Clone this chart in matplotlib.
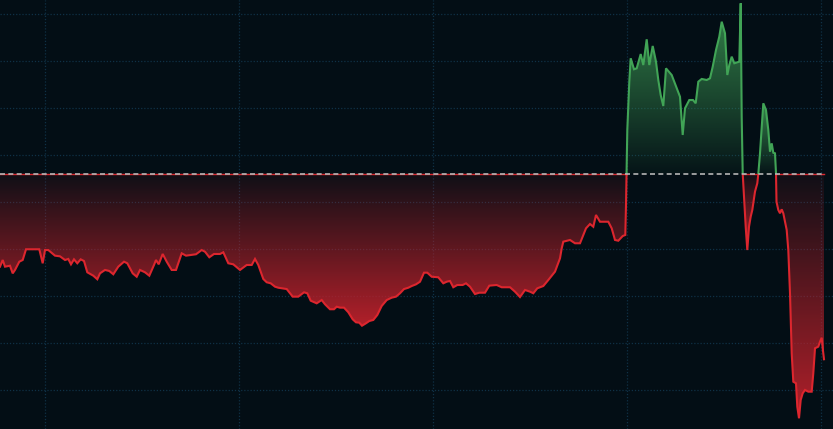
import numpy as np
import matplotlib.pyplot as plt
from matplotlib.patches import Rectangle

# time index and price
t = [0, 2.7, 5, 10, 12.7, 15, 19.3, 22.7, 26, 39.3, 42.7, 45, 48.3, 55, 60, 65, 68.3, 71, 74, 77.3,
     80.7, 84, 87.3, 93.3, 97.3, 100, 105, 109.3, 113.3, 118.3, 124, 127.3, 132.7, 136.7, 140, 145,
     149.3, 154, 156, 158.7, 162.7, 166.7, 171.7, 176, 181.7, 186, 190.7, 196, 201.7, 205, 209.3,
     214, 220, 223.3, 228.3, 233.3, 240, 246.7, 251.7, 255, 258.3, 263.3, 266.7, 270.7, 275, 278.3,
     286.7, 292.7, 298.3, 304, 307.3, 310.7, 316.7, 321.7, 325, 330, 334, 336.7, 340, 344, 348.3,
     352.7, 356, 359.3, 362, 366, 369.3, 373.3, 377.3, 381.7, 386.7, 391.7, 396, 400, 404, 408.3,
     411.7, 416, 420, 424, 427.3, 431.7, 438.3, 443.3, 446.7, 450, 453.3, 457.3, 462.7, 466, 470,
     475, 479.3, 485, 489.3, 496.7, 501.7, 510, 515, 520, 525, 530, 533.3, 537.3, 543.3, 548.3, 555,
     560, 561.7, 563.3, 570, 575, 580, 586, 590, 593.3, 596, 600, 604, 608.3, 611.7, 615, 618.3,
     622.7, 625.3, 626, 627.3, 628.3, 629.3, 630.7, 634, 636.7, 640.7, 643.3, 646.7, 649.3, 652.7,
     656, 658.3, 660.7, 663.3, 666, 671.7, 680, 682.7, 685, 689.3, 693, 695.7, 698.3, 701.7, 706.7,
     710, 712.7, 716, 719.3, 721.7, 725, 727.3, 729.3, 731.7, 734.3, 739.3, 740.7, 741.7, 742.7, 744,
     745.7, 747.3, 749, 750.7, 752.3, 755, 757.3, 758.3, 760, 761.7, 763.3, 766, 768.3, 770, 771.7,
     773.3, 775, 776, 776.5, 778.3, 780, 781.7, 783.3, 785, 786.7, 788.3, 790, 791.7, 793.3, 796,
     797.3, 799, 800.7, 802.7, 805, 808.3, 811.7, 813.3, 815, 818.3, 820, 821.7, 822.7, 824]
price = [73.12, 73.83, 73.12, 73.22, 72.41, 72.77, 73.65, 73.83, 74.97, 74.97, 73.48, 74.89, 74.89,
         74.29, 74.22, 73.83, 73.94, 73.37, 73.90, 73.48, 73.90, 73.72, 72.52, 72.16, 71.78, 72.41,
         72.77, 72.66, 72.31, 73.12, 73.65, 73.48, 72.41, 72.05, 72.77, 72.52, 72.16, 73.30, 73.83,
         73.37, 74.47, 73.65, 72.77, 72.77, 74.54, 74.29, 74.36, 74.44, 74.89, 74.71, 74.12, 74.47,
         74.47, 74.65, 73.48, 73.37, 72.77, 73.30, 73.30, 73.94, 73.30, 71.81, 71.46, 71.35, 70.99,
         70.88, 70.74, 69.93, 69.93, 70.39, 70.29, 69.50, 69.22, 69.57, 69.12, 68.59, 68.59, 68.86,
         68.76, 68.76, 68.27, 67.52, 67.20, 67.16, 66.84, 67.10, 67.34, 67.45, 67.98, 68.94, 69.57,
         69.82, 69.93, 70.29, 70.74, 70.88, 71.06, 71.24, 71.52, 72.48, 72.48, 72.05, 71.99, 71.35,
         71.52, 71.60, 70.93, 71.17, 71.17, 71.35, 70.99, 70.21, 70.35, 70.35, 71.10, 71.17, 70.93,
         70.93, 70.46, 69.89, 70.64, 70.46, 70.29, 70.82, 71.06, 71.70, 72.59, 74.01, 75.07, 75.78,
         75.96, 75.61, 75.61, 77.20, 77.66, 77.37, 78.62, 77.90, 77.90, 77.90, 77.20, 75.96, 75.88,
         76.38, 76.49, 79.68, 87.66, 90.14, 92.80, 95.29, 94.12, 94.22, 95.74, 94.57, 97.31, 94.57,
         96.60, 94.93, 92.98, 91.38, 90.21, 94.22, 93.51, 91.20, 87.13, 89.97, 90.85, 90.85, 90.50,
         92.80, 93.09, 92.98, 93.16, 94.39, 96.17, 97.59, 99.18, 97.95, 93.51, 94.57, 95.46, 94.76,
         94.93, 101.14, 89.07, 83.05, 80.56, 77.37, 74.89, 77.37, 78.44, 79.15, 81.10, 81.99, 82.98,
         85.18, 88.01, 90.50, 89.79, 87.66, 85.35, 86.24, 85.24, 85.18, 83.05, 80.03, 79.15, 78.80,
         79.22, 78.80, 77.90, 77.02, 74.89, 70.29, 63.90, 60.88, 60.71, 58.22, 56.99, 58.94, 59.65,
         60.00, 59.82, 59.82, 61.78, 64.44, 64.61, 65.14, 65.56, 64.44, 63.27]
base_price = 83.0
grid_t = [45, 239, 433, 627, 821]
grid_price = [60, 65, 70, 75, 80, 85, 90, 95, 100]

bg = '#030e15'
red = '#dc262e'
green = '#41a456'

x = np.array(t)
y = np.array(price)

fig = plt.figure(figsize=(8.33, 4.29), dpi=100)
fig.patch.set_facecolor(bg)
ax = fig.add_axes([0, 0, 1, 1])
ax.set_facecolor(bg)
for s in ax.spines.values():
    s.set_visible(False)
ax.set_xticks(grid_t)
ax.set_yticks(grid_price)
ax.tick_params(left=False, bottom=False, labelleft=False, labelbottom=False)
ax.grid(True, color='#0f3146', linestyle=(0, (1, 1.5)), linewidth=0.9)
ax.set_axisbelow(True)


def gradient_fill(mask, rgb, a_base, a_end, up):
    pc = ax.fill_between(x, y, base_price, where=mask, interpolate=True,
                         facecolor='none', edgecolor='none')
    exts = []
    for p in pc.get_paths():
        e = p.get_extents()
        g = np.linspace(0, 1, 256)
        if up:
            a = a_base + (a_end - a_base) * g
        else:
            a = a_end - (a_end - a_base) * g
        img = np.zeros((256, 1, 4))
        img[..., :3] = rgb
        img[:, 0, 3] = a
        im = ax.imshow(img, extent=[e.x0, e.x1, e.y0, e.y1], origin='lower',
                       aspect='auto', interpolation='bilinear', zorder=1)
        im.set_clip_path(p, transform=ax.transData)
        exts.append(e)
    return exts


red_ext = gradient_fill(y < base_price, (0.74, 0.13, 0.17), 0.07, 0.95, False)
gradient_fill(y >= base_price, (0.24, 0.6, 0.33), 0.05, 0.85, True)

# red edge along the baseline under the red areas
for e in red_ext:
    ax.plot([e.x0, e.x1], [base_price, base_price], color=red, lw=1.0, zorder=3)

below = Rectangle((-50, 0), 1000, base_price, transform=ax.transData)
above = Rectangle((-50, base_price), 1000, 100, transform=ax.transData)
l1, = ax.plot(x, y, color=red, lw=1.5, zorder=4, solid_joinstyle='miter')
l1.set_clip_path(below)
l2, = ax.plot(x, y, color=green, lw=1.5, zorder=4, solid_joinstyle='miter')
l2.set_clip_path(above)

ax.plot([0, x[-1] + 1.5], [base_price, base_price], color='#b5b5b5', lw=1.2,
        dashes=(3, 2), zorder=5)

ax.set_xlim(0, 833)
ax.set_ylim(55.85, 101.49)
plt.savefig('out.png', dpi=100, facecolor=bg)
